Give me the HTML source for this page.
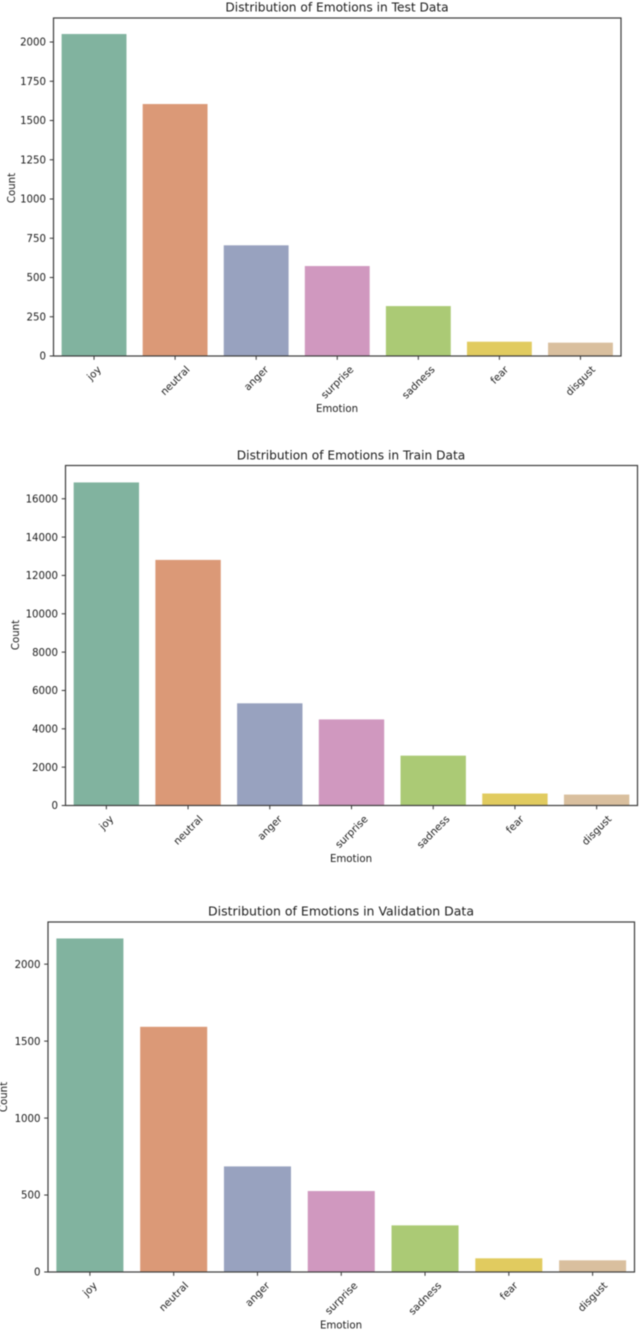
<!DOCTYPE html>
<html lang="en">
<head>
<meta charset="utf-8">
<title>Distribution of Emotions</title>
<style>
html,body{margin:0;padding:0;background:#fff;width:640px;height:1331px;overflow:hidden}
svg{display:block;filter:blur(0.4px)}
text{font-family:"DejaVu Sans","Liberation Sans",sans-serif;fill:#1c1c1c}
</style>
</head>
<body>
<svg id="chart" xmlns="http://www.w3.org/2000/svg" width="640" height="1331" viewBox="0 0 640 1331"></svg>
<script>
const categories = ["joy", "neutral", "anger", "surprise", "sadness", "fear", "disgust"];
const testCounts = [2051, 1605, 705, 573, 318, 91, 85];
const trainCounts = [16850, 12810, 5330, 4490, 2600, 625, 570];
const validationCounts = [2167, 1593, 686, 526, 303, 89, 76];
const testTicks = [0, 250, 500, 750, 1000, 1250, 1500, 1750, 2000];
const trainTicks = [0, 2000, 4000, 6000, 8000, 10000, 12000, 14000, 16000];
const validationTicks = [0, 500, 1000, 1500, 2000];
const barColors = ["#81b39f", "#db9977", "#98a2bf", "#d098bf", "#abca75", "#e1cb5f", "#d9bf9e"];

const svg = document.getElementById("chart");
const NS = "http://www.w3.org/2000/svg";
const LABEL_SIZE = 10.2;

function make(tag, attrs, parent) {
  const el = document.createElementNS(NS, tag);
  for (const k in attrs) el.setAttribute(k, attrs[k]);
  parent.appendChild(el);
  return el;
}

function drawPanel(cfg) {
  const g = make("g", {}, svg);
  
  

  const yScale = v => cfg.bottom - (v / cfg.yMax) * (cfg.bottom - cfg.top);
  const band = (cfg.right - cfg.left) / categories.length;
  const xScale = i => cfg.left + band * (i + 0.5);
  const barW = band * 0.8;

  cfg.values.forEach((v, i) => {
    const bar = make("rect", {
      x: xScale(i) - barW / 2,
      y: yScale(v),
      width: barW,
      height: cfg.bottom - yScale(v),
      fill: barColors[i]
    }, g);
    
    
  });

  cfg.ticks.forEach(t => {
    const y = yScale(t);
    const mark = make("line", {
      x1: cfg.left - 3.8, x2: cfg.left, y1: y, y2: y,
      stroke: "#333", "stroke-width": 1
    }, g);
    
    
    const label = make("text", {
      x: cfg.left - 7.5, y: y + 3.7, "text-anchor": "end", "font-size": LABEL_SIZE
    }, g);
    label.textContent = String(t);
    
    
  });

  categories.forEach((c, i) => {
    const x = xScale(i);
    const mark = make("line", {
      x1: x, x2: x, y1: cfg.bottom, y2: cfg.bottom + 3.8,
      stroke: "#333", "stroke-width": 1
    }, g);
    
    
    const label = make("text", {
      x: x, y: 0, "text-anchor": "middle", "font-size": LABEL_SIZE
    }, g);
    label.textContent = c;
    const side = (label.getComputedTextLength() + 12) * Math.SQRT1_2;
    const cy = cfg.bottom + 7.5 + side / 2;
    label.setAttribute("y", cy + 3.4);
    label.setAttribute("transform", "rotate(-45 " + x + " " + cy + ")");
    
    
  });

  const frame = make("rect", {
    x: cfg.left, y: cfg.top, width: cfg.right - cfg.left, height: cfg.bottom - cfg.top,
    fill: "none", stroke: "#3c3c3c", "stroke-width": 1.2
  }, g);
  
  

  const title = make("text", {
    x: cfg.titleX, y: cfg.titleY, "text-anchor": "middle", "font-size": cfg.titleSize
  }, g);
  title.textContent = cfg.title;
  
  

  const xTitle = make("text", {
    x: cfg.titleX, y: cfg.xTitleY, "text-anchor": "middle", "font-size": LABEL_SIZE
  }, g);
  xTitle.textContent = "Emotion";
  
  

  const yTitle = make("text", {
    x: 0, y: 0, "text-anchor": "middle", "font-size": LABEL_SIZE,
    transform: "translate(" + cfg.yTitleX + " " + cfg.yTitleY + ") rotate(-90)"
  }, g);
  yTitle.textContent = "Count";
  
  
}

drawPanel({
  key: "test", title: "Distribution of Emotions in Test Data",
  values: testCounts, ticks: testTicks, yMax: 2153, titleSize: 12.2,
  left: 53.5, right: 621, top: 18, bottom: 356,
  titleX: 337, titleY: 11.5, xTitleY: 412, yTitleX: 15, yTitleY: 188
});
drawPanel({
  key: "train", title: "Distribution of Emotions in Train Data",
  values: trainCounts, ticks: trainTicks, yMax: 17734, titleSize: 12.2,
  left: 65.5, right: 637.5, top: 465.5, bottom: 805.5,
  titleX: 351, titleY: 459.5, xTitleY: 862, yTitleX: 19, yTitleY: 635
});
drawPanel({
  key: "validation", title: "Distribution of Emotions in Validation Data",
  values: validationCounts, ticks: validationTicks, yMax: 2274, titleSize: 12.5,
  left: 48, right: 634.5, top: 922, bottom: 1272,
  titleX: 341, titleY: 915.5, xTitleY: 1328.5, yTitleX: 7, yTitleY: 1097
});
</script>
</body>
</html>
